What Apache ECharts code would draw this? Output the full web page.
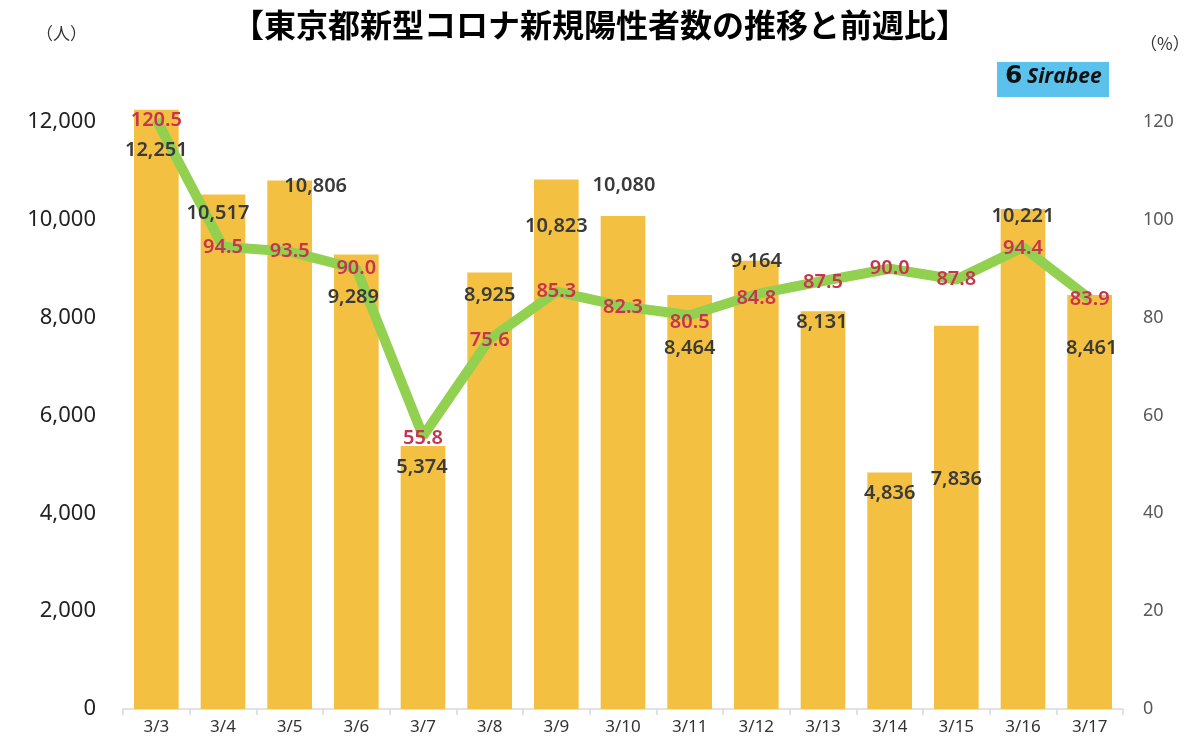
<!DOCTYPE html>
<html><head><meta charset="utf-8">
<script src="https://cdn.jsdelivr.net/npm/echarts@6/dist/echarts.min.js"></script>
<style>html,body{margin:0;padding:0;background:#fff}#c{width:1200px;height:747px}</style>
</head><body><div id="c"></div>
<script>
const categories = ['3/3','3/4','3/5','3/6','3/7','3/8','3/9','3/10','3/11','3/12','3/13','3/14','3/15','3/16','3/17'];
const cases = [12251,10517,10806,9289,5374,8925,10823,10080,8464,9164,8131,4836,7836,10221,8461];
const weekRatio = [120.5,94.5,93.5,90.0,55.8,75.6,85.3,82.3,80.5,84.8,87.5,90.0,87.8,94.4,83.9];
const leftTicks = [0,2000,4000,6000,8000,10000,12000];
const rightTicks = [0,20,40,60,80,100,120];
// label placement tweaks (style only)
const barLabelOffsets = [[0,31],[-5,9],[26,-4],[-3,33],[-1,11],[0,13],[0,37],[1,-41],[0,43],[0,-9],[-1,1],[0,11],[0,144],[0,-3],[2,43]];
const lineLabelOffsets = [[0,1],[0,1],[0,0],[0,0],[0,2],[0,1],[0,0],[0,1],[0,7],[0,4],[0,1],[0,0],[0,0],[0,1],[0,1]];

const font = "'Noto Sans CJK JP','Noto Sans',sans-serif";
const numFont = "'Noto Sans','Open Sans',sans-serif";
const chart = echarts.init(document.getElementById('c'));
chart.setOption({
  backgroundColor:'#fff',
  animation:false,
  title:{text:'【東京都新型コロナ新規陽性者数の推移と前週比】',left:'center',top:4,
    textStyle:{fontFamily:font,fontSize:32,fontWeight:'bold',color:'#000'}},
  grid:{left:123,right:77,top:122,bottom:38},
  xAxis:{type:'category',data:categories,
    axisLine:{lineStyle:{color:'#d9d9d9',width:1.5}},
    axisTick:{show:true,alignWithLabel:false,length:6,lineStyle:{color:'#d9d9d9',width:1.5}},
    axisLabel:{fontFamily:numFont,fontSize:17,color:'#333',margin:10}},
  yAxis:[
    {type:'value',min:0,max:12000,interval:2000,
     splitLine:{show:false},axisLine:{show:false},axisTick:{show:false},
     axisLabel:{fontFamily:numFont,fontSize:22,color:'#222',margin:27,
       formatter:v=>leftTicks.includes(v)?v.toLocaleString('en-US'):''}},
    {type:'value',min:0,max:120,interval:20,
     splitLine:{show:false},axisLine:{show:false},axisTick:{show:false},
     axisLabel:{fontFamily:numFont,fontSize:18,color:'#595959',margin:20,
       formatter:v=>rightTicks.includes(v)?String(v):''}}
  ],
  graphic:[
    {type:'text',left:36,top:25,style:{text:'（人）',font:"17px "+font,fill:'#333'}},
    {type:'text',left:1140,top:35,style:{text:'（%）',font:"17px "+font,fill:'#333'}},
    {type:'rect',shape:{x:997,y:62,width:112,height:35},style:{fill:'#5BC2EE'}},
    {type:'text',left:1005,top:64,style:{text:'6',font:"bold 25px 'DejaVu Sans',sans-serif",fill:'#111'}},
    {type:'text',left:1027,top:67,style:{text:'Sirabee',font:"italic bold 21px 'Open Sans',sans-serif",fill:'#111'}}
  ],
  series:[
    {type:'bar',yAxisIndex:0,barWidth:'67%',clip:false,
     data:cases,
     itemStyle:{color:'#F4C042'},
     z:2},
    {type:'line',yAxisIndex:1,clip:false,
     data:weekRatio.map((v,i)=>({value:v,label:{offset:lineLabelOffsets[i]}})),
     symbol:'circle',symbolSize:1,
     itemStyle:{color:'#92D050'},
     lineStyle:{color:'#92D050',width:10},
     label:{show:true,position:'inside',fontFamily:numFont,fontSize:20,fontWeight:600,color:'#C8334F',
       formatter:p=>p.value.toFixed(1)},
     z:3},
    {type:'bar',yAxisIndex:0,barWidth:'67%',barGap:'-100%',clip:false,silent:true,
     data:cases.map((v,i)=>({value:v,label:{offset:barLabelOffsets[i]}})),
     itemStyle:{color:'rgba(0,0,0,0)'},
     label:{show:true,position:'insideTop',distance:0,fontFamily:numFont,fontSize:20,fontWeight:600,color:'#3a3a3a',
       formatter:p=>p.value.toLocaleString('en-US')},
     z:4}
  ]
});
</script></body></html>
